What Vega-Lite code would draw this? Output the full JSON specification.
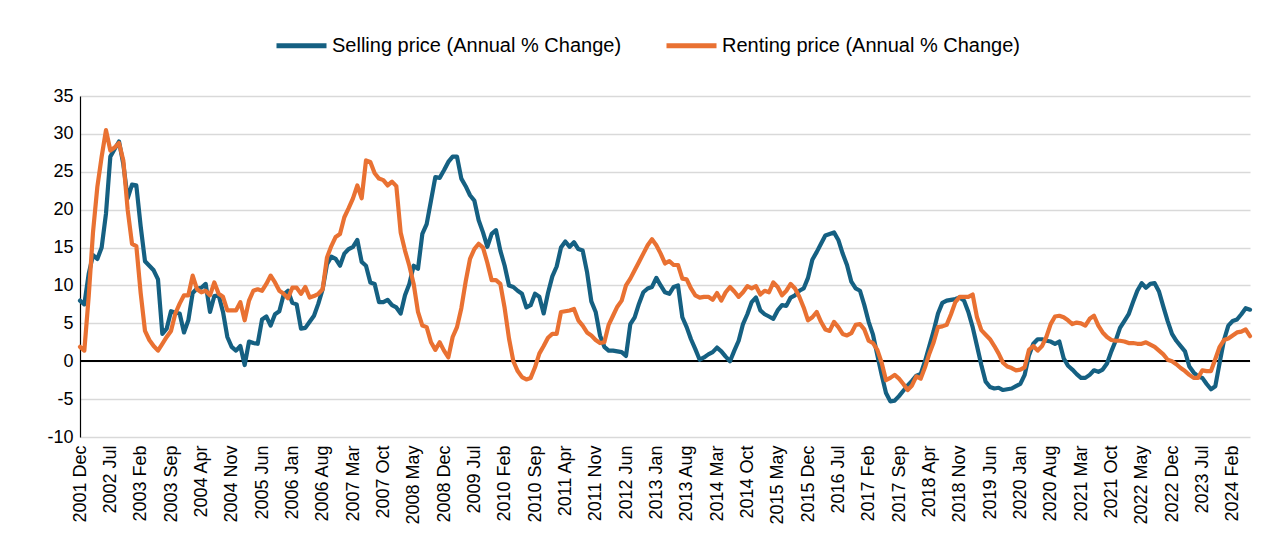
{
"$schema": "https://vega.github.io/schema/vega-lite/v6.json",
"width": 1170, "height": 341,
"autosize": {"type": "none"},
"padding": {"left": 80, "top": 96, "right": 14, "bottom": 100},
"background": "white",
"config": {"view": {"stroke": null}, "font": "Liberation Sans",
 "axisX": {"grid": false, "ticks": false, "domain": false, "labelAngle": -90, "labelFontSize": 18, "labelColor": "#000", "labelPadding": 8, "labelFont": "Liberation Sans", "labelOverlap": false},
 "axisY": {"grid": true, "gridColor": "#d9d9d9", "gridWidth": 1.5, "ticks": false, "domain": true, "domainColor": "#000", "domainWidth": 1.2, "labelFontSize": 18, "labelColor": "#000", "labelPadding": 7, "labelFont": "Liberation Sans", "labelOverlap": false},
 "legend": {"orient": "none", "legendX": 194, "legendY": -78, "direction": "horizontal", "symbolType": "stroke", "symbolStrokeWidth": 5, "symbolSize": 2500, "labelFontSize": 20, "labelOffset": 3, "columnPadding": 34, "labelColor": "#000", "labelFont": "Liberation Sans", "labelLimit": 0, "title": null}
},
"data": {"values": [
{"m":"2001 Dec","s":8.0,"r":1.9},
{"m":"2002 Jan","s":7.5,"r":1.4},{"m":"2002 Feb","s":11.5,"r":8.5},{"m":"2002 Mar","s":14.0,"r":17.0},{"m":"2002 Apr","s":13.5,"r":23.0},{"m":"2002 May","s":15.0,"r":27.0},{"m":"2002 Jun","s":19.5,"r":30.5},{"m":"2002 Jul","s":27.0,"r":27.8},{"m":"2002 Aug","s":28.0,"r":28.2},{"m":"2002 Sep","s":29.0,"r":28.8},{"m":"2002 Oct","s":26.0,"r":26.5},{"m":"2002 Nov","s":21.5,"r":20.0},{"m":"2002 Dec","s":23.3,"r":15.5},
{"m":"2003 Jan","s":23.2,"r":15.2},{"m":"2003 Feb","s":17.8,"r":9.0},{"m":"2003 Mar","s":13.2,"r":4.0},{"m":"2003 Apr","s":12.6,"r":2.8},{"m":"2003 May","s":12.0,"r":2.0},{"m":"2003 Jun","s":10.8,"r":1.4},{"m":"2003 Jul","s":3.6,"r":2.3},{"m":"2003 Aug","s":4.3,"r":3.2},{"m":"2003 Sep","s":6.6,"r":4.0},{"m":"2003 Oct","s":6.4,"r":6.3},{"m":"2003 Nov","s":6.3,"r":7.6},{"m":"2003 Dec","s":3.8,"r":8.7},
{"m":"2004 Jan","s":5.4,"r":8.7},{"m":"2004 Feb","s":9.0,"r":11.3},{"m":"2004 Mar","s":9.6,"r":9.5},{"m":"2004 Apr","s":9.7,"r":9.1},{"m":"2004 May","s":10.2,"r":9.3},{"m":"2004 Jun","s":6.5,"r":8.7},{"m":"2004 Jul","s":8.6,"r":10.4},{"m":"2004 Aug","s":8.7,"r":8.9},{"m":"2004 Sep","s":6.5,"r":8.5},{"m":"2004 Oct","s":3.2,"r":6.7},{"m":"2004 Nov","s":1.9,"r":6.7},{"m":"2004 Dec","s":1.4,"r":6.7},
{"m":"2005 Jan","s":2.0,"r":7.8},{"m":"2005 Feb","s":-0.5,"r":5.4},{"m":"2005 Mar","s":2.6,"r":8.0},{"m":"2005 Apr","s":2.4,"r":9.3},{"m":"2005 May","s":2.3,"r":9.5},{"m":"2005 Jun","s":5.5,"r":9.3},{"m":"2005 Jul","s":5.9,"r":10.2},{"m":"2005 Aug","s":4.7,"r":11.3},{"m":"2005 Sep","s":6.2,"r":10.4},{"m":"2005 Oct","s":6.6,"r":9.3},{"m":"2005 Nov","s":8.8,"r":8.9},{"m":"2005 Dec","s":9.3,"r":8.3},
{"m":"2006 Jan","s":7.7,"r":9.7},{"m":"2006 Feb","s":7.5,"r":9.7},{"m":"2006 Mar","s":4.3,"r":8.9},{"m":"2006 Apr","s":4.4,"r":9.8},{"m":"2006 May","s":5.2,"r":8.4},{"m":"2006 Jun","s":6.0,"r":8.6},{"m":"2006 Jul","s":7.6,"r":8.9},{"m":"2006 Aug","s":9.5,"r":9.5},{"m":"2006 Sep","s":12.8,"r":13.7},{"m":"2006 Oct","s":13.8,"r":15.2},{"m":"2006 Nov","s":13.5,"r":16.4},{"m":"2006 Dec","s":12.6,"r":16.8},
{"m":"2007 Jan","s":14.2,"r":19.0},{"m":"2007 Feb","s":14.8,"r":20.2},{"m":"2007 Mar","s":15.1,"r":21.5},{"m":"2007 Apr","s":16.0,"r":23.2},{"m":"2007 May","s":13.1,"r":21.5},{"m":"2007 Jun","s":12.6,"r":26.5},{"m":"2007 Jul","s":10.4,"r":26.3},{"m":"2007 Aug","s":10.2,"r":24.8},{"m":"2007 Sep","s":7.8,"r":24.1},{"m":"2007 Oct","s":7.8,"r":23.9},{"m":"2007 Nov","s":8.1,"r":23.2},{"m":"2007 Dec","s":7.4,"r":23.7},
{"m":"2008 Jan","s":7.1,"r":23.1},{"m":"2008 Feb","s":6.3,"r":17.0},{"m":"2008 Mar","s":8.7,"r":14.6},{"m":"2008 Apr","s":10.2,"r":12.6},{"m":"2008 May","s":12.6,"r":10.2},{"m":"2008 Jun","s":12.2,"r":6.5},{"m":"2008 Jul","s":16.8,"r":4.7},{"m":"2008 Aug","s":18.1,"r":4.5},{"m":"2008 Sep","s":21.2,"r":2.5},{"m":"2008 Oct","s":24.3,"r":1.5},{"m":"2008 Nov","s":24.2,"r":2.5},{"m":"2008 Dec","s":25.2,"r":1.4},
{"m":"2009 Jan","s":26.3,"r":0.5},{"m":"2009 Feb","s":27.0,"r":3.2},{"m":"2009 Mar","s":27.0,"r":4.5},{"m":"2009 Apr","s":24.1,"r":7.0},{"m":"2009 May","s":23.1,"r":10.5},{"m":"2009 Jun","s":21.9,"r":13.5},{"m":"2009 Jul","s":21.2,"r":14.8},{"m":"2009 Aug","s":18.6,"r":15.5},{"m":"2009 Sep","s":17.0,"r":15.0},{"m":"2009 Oct","s":15.1,"r":13.0},{"m":"2009 Nov","s":16.8,"r":10.7},{"m":"2009 Dec","s":17.3,"r":10.7},
{"m":"2010 Jan","s":14.6,"r":10.2},{"m":"2010 Feb","s":12.6,"r":7.0},{"m":"2010 Mar","s":10.0,"r":3.0},{"m":"2010 Apr","s":9.8,"r":0.0},{"m":"2010 May","s":9.3,"r":-1.3},{"m":"2010 Jun","s":8.9,"r":-2.1},{"m":"2010 Jul","s":7.1,"r":-2.4},{"m":"2010 Aug","s":7.4,"r":-2.2},{"m":"2010 Sep","s":8.9,"r":-0.8},{"m":"2010 Oct","s":8.5,"r":1.0},{"m":"2010 Nov","s":6.3,"r":2.0},{"m":"2010 Dec","s":9.0,"r":3.1},
{"m":"2011 Jan","s":11.2,"r":3.6},{"m":"2011 Feb","s":12.5,"r":3.6},{"m":"2011 Mar","s":15.0,"r":6.5},{"m":"2011 Apr","s":15.8,"r":6.6},{"m":"2011 May","s":15.1,"r":6.7},{"m":"2011 Jun","s":15.7,"r":6.9},{"m":"2011 Jul","s":14.8,"r":5.4},{"m":"2011 Aug","s":14.6,"r":4.7},{"m":"2011 Sep","s":11.8,"r":3.8},{"m":"2011 Oct","s":7.9,"r":3.4},{"m":"2011 Nov","s":6.5,"r":2.8},{"m":"2011 Dec","s":3.4,"r":2.4},
{"m":"2012 Jan","s":1.9,"r":2.5},{"m":"2012 Feb","s":1.4,"r":4.8},{"m":"2012 Mar","s":1.4,"r":6.0},{"m":"2012 Apr","s":1.3,"r":7.2},{"m":"2012 May","s":1.2,"r":8.0},{"m":"2012 Jun","s":0.7,"r":10.0},{"m":"2012 Jul","s":4.9,"r":10.9},{"m":"2012 Aug","s":5.8,"r":12.0},{"m":"2012 Sep","s":7.6,"r":13.1},{"m":"2012 Oct","s":9.1,"r":14.2},{"m":"2012 Nov","s":9.6,"r":15.3},{"m":"2012 Dec","s":9.8,"r":16.1},
{"m":"2013 Jan","s":11.0,"r":15.3},{"m":"2013 Feb","s":10.0,"r":14.2},{"m":"2013 Mar","s":9.1,"r":12.9},{"m":"2013 Apr","s":8.9,"r":13.2},{"m":"2013 May","s":9.8,"r":12.7},{"m":"2013 Jun","s":10.0,"r":12.7},{"m":"2013 Jul","s":5.8,"r":10.9},{"m":"2013 Aug","s":4.5,"r":10.8},{"m":"2013 Sep","s":2.9,"r":9.6},{"m":"2013 Oct","s":1.6,"r":8.7},{"m":"2013 Nov","s":0.2,"r":8.4},{"m":"2013 Dec","s":0.5,"r":8.5},
{"m":"2014 Jan","s":0.9,"r":8.5},{"m":"2014 Feb","s":1.2,"r":8.1},{"m":"2014 Mar","s":1.8,"r":9.0},{"m":"2014 Apr","s":1.3,"r":8.0},{"m":"2014 May","s":0.6,"r":9.1},{"m":"2014 Jun","s":0.0,"r":9.8},{"m":"2014 Jul","s":1.4,"r":9.2},{"m":"2014 Aug","s":2.7,"r":8.5},{"m":"2014 Sep","s":4.9,"r":9.1},{"m":"2014 Oct","s":6.2,"r":9.9},{"m":"2014 Nov","s":7.8,"r":9.6},{"m":"2014 Dec","s":8.4,"r":9.9},
{"m":"2015 Jan","s":6.7,"r":8.8},{"m":"2015 Feb","s":6.2,"r":9.3},{"m":"2015 Mar","s":5.9,"r":9.1},{"m":"2015 Apr","s":5.6,"r":10.4},{"m":"2015 May","s":6.7,"r":9.8},{"m":"2015 Jun","s":7.4,"r":8.7},{"m":"2015 Jul","s":7.3,"r":9.3},{"m":"2015 Aug","s":8.4,"r":10.2},{"m":"2015 Sep","s":8.7,"r":9.6},{"m":"2015 Oct","s":9.3,"r":8.5},{"m":"2015 Nov","s":9.6,"r":7.1},{"m":"2015 Dec","s":11.0,"r":5.4},
{"m":"2016 Jan","s":13.4,"r":5.8},{"m":"2016 Feb","s":14.4,"r":6.5},{"m":"2016 Mar","s":15.5,"r":5.2},{"m":"2016 Apr","s":16.6,"r":4.2},{"m":"2016 May","s":16.8,"r":4.0},{"m":"2016 Jun","s":17.0,"r":5.2},{"m":"2016 Jul","s":16.0,"r":4.5},{"m":"2016 Aug","s":14.2,"r":3.6},{"m":"2016 Sep","s":12.7,"r":3.4},{"m":"2016 Oct","s":10.5,"r":3.7},{"m":"2016 Nov","s":9.6,"r":4.8},{"m":"2016 Dec","s":9.3,"r":4.9},
{"m":"2017 Jan","s":7.4,"r":4.2},{"m":"2017 Feb","s":5.2,"r":2.7},{"m":"2017 Mar","s":3.5,"r":2.4},{"m":"2017 Apr","s":0.8,"r":1.5},{"m":"2017 May","s":-1.8,"r":-0.2},{"m":"2017 Jun","s":-4.2,"r":-2.5},{"m":"2017 Jul","s":-5.3,"r":-2.2},{"m":"2017 Aug","s":-5.2,"r":-1.8},{"m":"2017 Sep","s":-4.6,"r":-2.3},{"m":"2017 Oct","s":-3.9,"r":-3.0},{"m":"2017 Nov","s":-3.2,"r":-3.8},{"m":"2017 Dec","s":-2.6,"r":-3.2},
{"m":"2018 Jan","s":-1.9,"r":-2.0},{"m":"2018 Feb","s":-1.7,"r":-2.3},{"m":"2018 Mar","s":0.0,"r":-0.8},{"m":"2018 Apr","s":2.0,"r":1.0},{"m":"2018 May","s":4.0,"r":2.5},{"m":"2018 Jun","s":6.3,"r":4.5},{"m":"2018 Jul","s":7.7,"r":4.6},{"m":"2018 Aug","s":8.0,"r":4.8},{"m":"2018 Sep","s":8.1,"r":6.2},{"m":"2018 Oct","s":8.2,"r":7.8},{"m":"2018 Nov","s":8.4,"r":8.5},{"m":"2018 Dec","s":8.0,"r":8.5},
{"m":"2019 Jan","s":6.5,"r":8.5},{"m":"2019 Feb","s":4.5,"r":8.8},{"m":"2019 Mar","s":2.0,"r":5.8},{"m":"2019 Apr","s":-0.5,"r":4.1},{"m":"2019 May","s":-2.7,"r":3.5},{"m":"2019 Jun","s":-3.4,"r":2.9},{"m":"2019 Jul","s":-3.6,"r":2.0},{"m":"2019 Aug","s":-3.5,"r":1.0},{"m":"2019 Sep","s":-3.8,"r":-0.2},{"m":"2019 Oct","s":-3.7,"r":-0.7},{"m":"2019 Nov","s":-3.6,"r":-0.9},{"m":"2019 Dec","s":-3.3,"r":-1.2},
{"m":"2020 Jan","s":-3.0,"r":-1.1},{"m":"2020 Feb","s":-1.8,"r":-0.8},{"m":"2020 Mar","s":0.8,"r":1.5},{"m":"2020 Apr","s":2.3,"r":2.0},{"m":"2020 May","s":2.9,"r":1.4},{"m":"2020 Jun","s":2.9,"r":2.0},{"m":"2020 Jul","s":2.7,"r":3.2},{"m":"2020 Aug","s":2.6,"r":4.9},{"m":"2020 Sep","s":2.3,"r":5.9},{"m":"2020 Oct","s":2.6,"r":6.0},{"m":"2020 Nov","s":0.4,"r":5.8},{"m":"2020 Dec","s":-0.6,"r":5.4},
{"m":"2021 Jan","s":-1.1,"r":4.9},{"m":"2021 Feb","s":-1.7,"r":5.1},{"m":"2021 Mar","s":-2.2,"r":5.0},{"m":"2021 Apr","s":-2.2,"r":4.7},{"m":"2021 May","s":-1.8,"r":5.6},{"m":"2021 Jun","s":-1.2,"r":6.0},{"m":"2021 Jul","s":-1.4,"r":4.7},{"m":"2021 Aug","s":-1.1,"r":3.8},{"m":"2021 Sep","s":-0.3,"r":3.2},{"m":"2021 Oct","s":1.3,"r":2.8},{"m":"2021 Nov","s":2.7,"r":2.7},{"m":"2021 Dec","s":4.4,"r":2.7},
{"m":"2022 Jan","s":5.3,"r":2.6},{"m":"2022 Feb","s":6.2,"r":2.4},{"m":"2022 Mar","s":7.8,"r":2.4},{"m":"2022 Apr","s":9.3,"r":2.3},{"m":"2022 May","s":10.3,"r":2.3},{"m":"2022 Jun","s":9.7,"r":2.5},{"m":"2022 Jul","s":10.2,"r":2.2},{"m":"2022 Aug","s":10.3,"r":1.9},{"m":"2022 Sep","s":9.2,"r":1.4},{"m":"2022 Oct","s":7.2,"r":0.9},{"m":"2022 Nov","s":5.3,"r":0.2},{"m":"2022 Dec","s":3.6,"r":0.0},
{"m":"2023 Jan","s":2.7,"r":-0.4},{"m":"2023 Feb","s":2.0,"r":-0.9},{"m":"2023 Mar","s":1.3,"r":-1.3},{"m":"2023 Apr","s":-0.7,"r":-1.8},{"m":"2023 May","s":-1.5,"r":-2.2},{"m":"2023 Jun","s":-2.0,"r":-2.2},{"m":"2023 Jul","s":-2.2,"r":-1.2},{"m":"2023 Aug","s":-3.0,"r":-1.3},{"m":"2023 Sep","s":-3.7,"r":-1.3},{"m":"2023 Oct","s":-3.3,"r":0.3},{"m":"2023 Nov","s":-0.2,"r":1.9},{"m":"2023 Dec","s":2.8,"r":2.8},
{"m":"2024 Jan","s":4.7,"r":3.0},{"m":"2024 Feb","s":5.3,"r":3.4},{"m":"2024 Mar","s":5.5,"r":3.8},{"m":"2024 Apr","s":6.2,"r":3.9},{"m":"2024 May","s":7.0,"r":4.2},{"m":"2024 Jun","s":6.8,"r":3.3}
]},
"layer": [
 {"mark": {"type": "rule", "color": "#000", "strokeWidth": 1.5},
  "encoding": {"y": {"datum": 0, "type": "quantitative", "scale": {"domain": [-10, 35], "nice": false}, "axis": {"title": null, "values": [-10,-5,0,5,10,15,20,25,30,35], "labelExpr": "'' + datum.value", "labelFontSize": 18, "labelOverlap": false}}}},
 {"mark": {"type": "line", "strokeWidth": 4.2, "strokeJoin": "round", "strokeCap": "round"},
  "encoding": {
   "x": {"field": "m", "type": "ordinal", "sort": null, "scale": {"type": "point", "padding": 0},
         "axis": {"title": null, "labelFontSize": 18, "values": ["2001 Dec","2002 Jul","2003 Feb","2003 Sep","2004 Apr","2004 Nov","2005 Jun","2006 Jan","2006 Aug","2007 Mar","2007 Oct","2008 May","2008 Dec","2009 Jul","2010 Feb","2010 Sep","2011 Apr","2011 Nov","2012 Jun","2013 Jan","2013 Aug","2014 Mar","2014 Oct","2015 May","2015 Dec","2016 Jul","2017 Feb","2017 Sep","2018 Apr","2018 Nov","2019 Jun","2020 Jan","2020 Aug","2021 Mar","2021 Oct","2022 May","2022 Dec","2023 Jul","2024 Feb"]}},
   "y": {"field": "s", "type": "quantitative", "scale": {"domain": [-10, 35], "nice": false}, "axis": {"title": null, "values": [-10,-5,0,5,10,15,20,25,30,35], "labelExpr": "'' + datum.value", "labelFontSize": 18, "labelOverlap": false}},
   "color": {"datum": "Selling price (Annual % Change)", "scale": {"domain": ["Selling price (Annual % Change)", "Renting price (Annual % Change)"], "range": ["#156082", "#E97132"]}}
  }},
 {"mark": {"type": "line", "strokeWidth": 4.2, "strokeJoin": "round", "strokeCap": "round"},
  "encoding": {
   "x": {"field": "m", "type": "ordinal", "sort": null, "scale": {"type": "point", "padding": 0}},
   "y": {"field": "r", "type": "quantitative", "scale": {"domain": [-10, 35], "nice": false}, "axis": {"title": null, "values": [-10,-5,0,5,10,15,20,25,30,35], "labelExpr": "'' + datum.value", "labelFontSize": 18, "labelOverlap": false}},
   "color": {"datum": "Renting price (Annual % Change)"}
  }}
]
}
